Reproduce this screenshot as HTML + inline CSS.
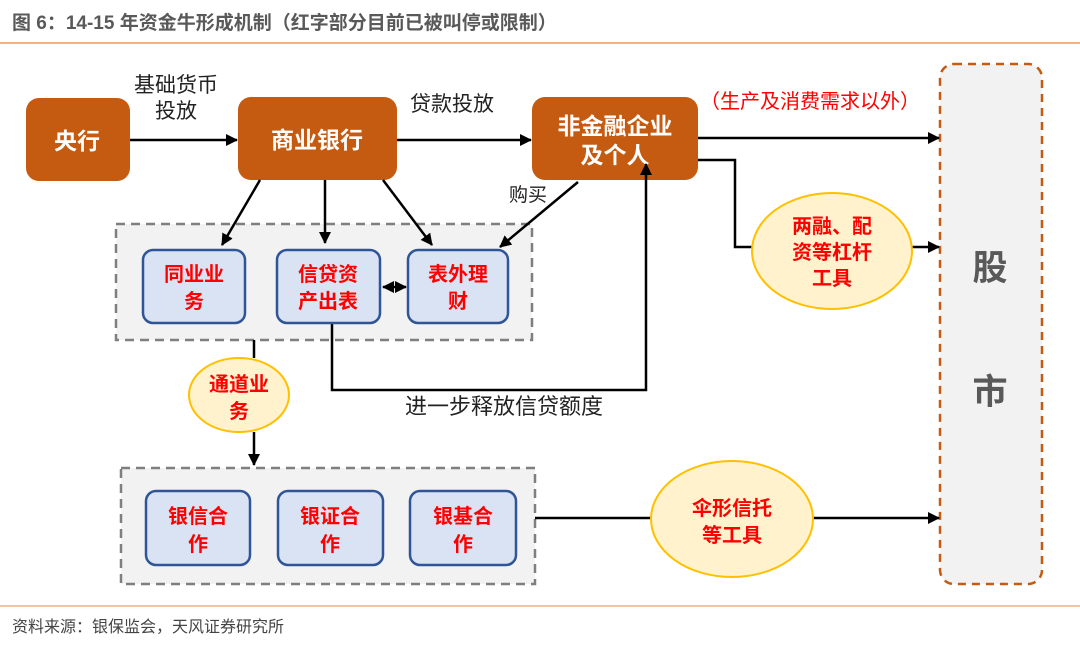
<!DOCTYPE html>
<html><head><meta charset="utf-8"><style>
html,body{margin:0;padding:0;background:#fff;}
svg{display:block;font-family:"Liberation Sans","Noto Sans CJK SC",sans-serif;}
</style></head><body>
<svg width="1080" height="646" viewBox="0 0 1080 646" xmlns="http://www.w3.org/2000/svg">
<defs>
<marker id="a" markerWidth="12" markerHeight="12" refX="11" refY="6" orient="auto" markerUnits="userSpaceOnUse"><path d="M0,0 L12,6 L0,12 z" fill="#000"/></marker>
<marker id="b" markerWidth="12" markerHeight="12" refX="1" refY="6" orient="auto" markerUnits="userSpaceOnUse"><path d="M12,0 L0,6 L12,12 z" fill="#000"/></marker>
</defs>
<text x="12" y="29" font-size="19" font-weight="bold" fill="#595959">图 6：14-15 年资金牛形成机制（红字部分目前已被叫停或限制）</text>
<line x1="0" y1="43" x2="1080" y2="43" stroke="#f4b183" stroke-width="2"/>

<rect x="940" y="64" width="102" height="520" rx="14" fill="#f2f2f2" stroke="#c55a11" stroke-width="2.5" stroke-dasharray="8,6"/>
<text x="990" y="280" font-size="35" font-weight="bold" fill="#595959" text-anchor="middle">股</text>
<text x="990" y="404" font-size="35" font-weight="bold" fill="#595959" text-anchor="middle">市</text>

<rect x="116" y="224" width="416" height="116" fill="#f2f2f2" stroke="#7f7f7f" stroke-width="2.5" stroke-dasharray="9,6"/>
<rect x="121" y="468" width="414" height="116" fill="#f2f2f2" stroke="#7f7f7f" stroke-width="2.5" stroke-dasharray="9,6"/>

<rect x="26" y="98" width="104" height="83" rx="13" fill="#c55a11"/>
<text x="77" y="149" font-size="23" font-weight="bold" fill="#fff" text-anchor="middle">央行</text>
<rect x="238" y="97" width="159" height="83" rx="13" fill="#c55a11"/>
<text x="317" y="148" font-size="23" font-weight="bold" fill="#fff" text-anchor="middle">商业银行</text>
<rect x="532" y="97" width="166" height="83" rx="13" fill="#c55a11"/>
<text x="615" y="134" font-size="23" font-weight="bold" fill="#fff" text-anchor="middle">非金融企业</text>
<text x="615" y="163" font-size="23" font-weight="bold" fill="#fff" text-anchor="middle">及个人</text>

<g stroke="#000" stroke-width="2.5" fill="none">
<line x1="130" y1="140" x2="237" y2="140" marker-end="url(#a)"/>
<line x1="397" y1="140" x2="531" y2="140" marker-end="url(#a)"/>
<line x1="698" y1="138" x2="939" y2="138" marker-end="url(#a)"/>
<polyline points="698,160 735,160 735,247 939,247" marker-end="url(#a)"/>
<line x1="260" y1="180" x2="222" y2="245" marker-end="url(#a)"/>
<line x1="325" y1="180" x2="325" y2="243" marker-end="url(#a)"/>
<line x1="383" y1="180" x2="432" y2="245" marker-end="url(#a)"/>
<line x1="578" y1="182" x2="500" y2="247" marker-end="url(#a)"/>
<line x1="383" y1="287" x2="406" y2="287" marker-start="url(#b)" marker-end="url(#a)"/>
<polyline points="332,323 332,390 646,390 646,164" marker-end="url(#a)"/>
<line x1="254" y1="340" x2="254" y2="358"/>
<line x1="254" y1="432" x2="254" y2="465" marker-end="url(#a)"/>
<line x1="535" y1="518" x2="939" y2="518" marker-end="url(#a)"/>
</g>

<text x="176" y="92" font-size="21" fill="#222" text-anchor="middle">基础货币</text>
<text x="176" y="118" font-size="21" fill="#222" text-anchor="middle">投放</text>
<text x="452" y="111" font-size="21" fill="#222" text-anchor="middle">贷款投放</text>
<text x="528" y="201" font-size="19" fill="#222" text-anchor="middle">购买</text>
<text x="810" y="108" font-size="20" fill="#ff0000" text-anchor="middle">（生产及消费需求以外）</text>
<text x="504" y="414" font-size="22" fill="#222" text-anchor="middle">进一步释放信贷额度</text>

<g fill="#dae3f3" stroke="#2f5597" stroke-width="2.5">
<rect x="143" y="250" width="102" height="73" rx="10"/>
<rect x="277" y="250" width="103" height="73" rx="10"/>
<rect x="408" y="250" width="100" height="73" rx="10"/>
<rect x="146" y="491" width="104" height="74" rx="10"/>
<rect x="278" y="491" width="105" height="74" rx="10"/>
<rect x="410" y="491" width="106" height="74" rx="10"/>
</g>
<g font-size="20" font-weight="bold" fill="#ff0000" text-anchor="middle">
<text x="194" y="281">同业业</text><text x="194" y="308">务</text>
<text x="328" y="281">信贷资</text><text x="328" y="308">产出表</text>
<text x="458" y="281">表外理</text><text x="458" y="308">财</text>
<text x="198" y="523">银信合</text><text x="198" y="551">作</text>
<text x="330" y="523">银证合</text><text x="330" y="551">作</text>
<text x="463" y="523">银基合</text><text x="463" y="551">作</text>
</g>

<g fill="#fff2cc" stroke="#ffc000" stroke-width="2">
<ellipse cx="239" cy="395" rx="50" ry="37"/>
<ellipse cx="832" cy="251" rx="80" ry="58"/>
<ellipse cx="732" cy="519" rx="81" ry="58"/>
</g>
<g font-size="20" font-weight="bold" fill="#ff0000" text-anchor="middle">
<text x="239" y="391">通道业</text><text x="239" y="418">务</text>
<text x="832" y="233">两融、配</text><text x="832" y="259">资等杠杆</text><text x="832" y="285">工具</text>
<text x="732" y="515">伞形信托</text><text x="732" y="542">等工具</text>
</g>

<line x1="0" y1="606" x2="1080" y2="606" stroke="#f4b183" stroke-width="1.5"/>
<text x="12" y="632" font-size="16" fill="#444">资料来源：银保监会，天风证券研究所</text>
</svg>
</body></html>
